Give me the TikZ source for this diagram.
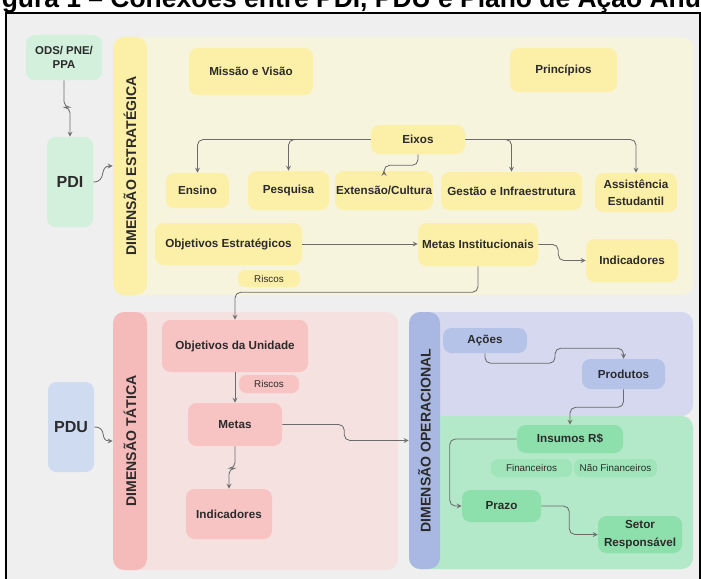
\documentclass[tikz,border=0pt]{standalone}
\usepackage{fontspec}
\setmainfont{Liberation Sans}
\usepackage{xcolor}
\usetikzlibrary{positioning}
\usetikzlibrary{arrows,calc}

\definecolor{fundo}{HTML}{EFEFEF}
\definecolor{amarpainel}{HTML}{F7F4DE}
\definecolor{amarcaixa}{HTML}{FCEFA8}
\definecolor{verdeclaro}{HTML}{D2F0DB}
\definecolor{rosapainel}{HTML}{F6E1E1}
\definecolor{rosacaixa}{HTML}{F7C3C3}
\definecolor{rosabarra}{HTML}{F5BBBB}
\definecolor{azulpdu}{HTML}{CFDBF1}
\definecolor{azulpainel}{HTML}{D5D8EE}
\definecolor{azulbarra}{HTML}{A9B8E3}
\definecolor{azulcaixa}{HTML}{B6C3E9}
\definecolor{verdepainel}{HTML}{B3E9C8}
\definecolor{verdecaixa}{HTML}{8DE0AC}
\definecolor{verdepeq}{HTML}{A0E5BA}
\definecolor{linha}{HTML}{6B6B6B}
\definecolor{texto}{HTML}{2B2B2B}

\begin{document}
\begin{tikzpicture} [
       x=0.025cm, y=-0.025cm,
       sz/.style 2 args={minimum width=#1*0.025cm, minimum height=#2*0.025cm},
       caixa/.style={rounded corners=6pt, text=texto, inner sep=0pt, align=center,
               font=\bfseries\fontsize{8.3}{12.5}\selectfont},
       amarelo/.style={caixa, fill=amarcaixa},
       rosa/.style={caixa, fill=rosacaixa},
       azul/.style={caixa, fill=azulcaixa},
       verde/.style={caixa, fill=verdecaixa},
       etiqueta/.style={rounded corners=5pt, text=texto, inner sep=0pt,
               font=\fontsize{7}{8}\selectfont},
       barra/.style={rounded corners=8pt, text=texto, inner sep=0pt,
               font=\bfseries\fontsize{10}{12}\selectfont},
       plano/.style={caixa, font=\bfseries\fontsize{11.4}{13}\selectfont},
       line/.style={draw=linha, line width=0.6pt, ->, >=stealth, rounded corners=4pt},
       ]
       \useasboundingbox (0,0) rectangle (701,578);
       \fill[white] (0,0) rectangle (701,578);
       \begin{scope}
       \clip (0,0) rectangle (701,13);
       \node (titulo) [anchor=base west, inner sep=0pt, font=\bfseries\fontsize{18.8}{22}\selectfont]
               at (-22,7.5) {Figura 1 – Conexões entre PDI, PDU e Plano de Ação Anual};
       \end{scope}
       \draw[line width=0.9pt, fill=fundo] (6,13) rectangle (700,590);

       \fill[amarpainel, rounded corners=8pt] (113,37) rectangle (693,295);
       \fill[rosapainel, rounded corners=8pt] (113,312) rectangle (398,570);
       \fill[azulpainel, rounded corners=8pt] (409,312) rectangle (693,416);
       \fill[verdepainel, rounded corners=8pt] (409,416) rectangle (693,569);

       \node (ods) [caixa, fill=verdeclaro, sz={76}{45}, font=\bfseries\fontsize{8.1}{9.5}\selectfont]
               at (64,57.5) {ODS/ PNE/\\PPA};
       \node (pdi) [plano, fill=verdeclaro, sz={46}{90}] at (70,182) {PDI};
       \node (pdu) [plano, fill=azulpdu, sz={46}{90}] at (71,427) {PDU};

       \node (estbar) [barra, fill=amarcaixa, sz={34}{258}] at (130,166) {\rotatebox{90}{DIMENSÃO ESTRATÉGICA}};
       \node (tatbar) [barra, fill=rosabarra, sz={34}{258}] at (130,441) {\rotatebox{90}{DIMENSÃO TÁTICA}};
       \node (opbar) [barra, fill=azulbarra, sz={31}{257}] at (424.5,440.5) {\rotatebox{90}{DIMENSÃO OPERACIONAL}};

       \node (missao) [amarelo, sz={124}{47}] at (251,71.5) {Missão e Visão};
       \node (princ) [amarelo, sz={107}{44}] at (563.5,70) {Princípios};
       \node (eixos) [amarelo, sz={94}{29}] at (418,139.5) {Eixos};
       \node (ensino) [amarelo, sz={63}{35}] at (197.5,190.5) {Ensino};
       \node (pesq) [amarelo, sz={81}{39}] at (288.5,190.5) {Pesquisa};
       \node (ext) [amarelo, sz={98}{39}] at (384,190.5) {Extensão/Cultura};
       \node (gest) [amarelo, sz={141}{38}] at (511.5,191) {Gestão e Infraestrutura};
       \node (assist) [amarelo, sz={82}{39}] at (636,192.5) {Assistência\\Estudantil};
       \node (objest) [amarelo, sz={147}{42}] at (228.5,244) {Objetivos Estratégicos};
       \node (riscosA) [etiqueta, fill=amarcaixa, sz={62}{17}] at (269,278.5) {Riscos};
       \node (metasinst) [amarelo, sz={120}{43}] at (478,244.5) {Metas Institucionais};
       \node (indA) [amarelo, sz={92}{43}] at (632,260.5) {Indicadores};

       \node (objun) [rosa, sz={146}{52}] at (235,346) {Objetivos da Unidade};
       \node (riscosB) [etiqueta, fill=rosacaixa, sz={60}{18}] at (269,384) {Riscos};
       \node (metas) [rosa, sz={94}{43}] at (235,424.5) {Metas};
       \node (indB) [rosa, sz={86}{50}] at (229,514) {Indicadores};

       \node (acoes) [azul, sz={84}{25}] at (485,340.5) {Ações};
       \node (prod) [azul, sz={83}{30}] at (623.5,374) {Produtos};
       \node (insumos) [verde, sz={106}{28}] at (570,439) {Insumos R\$};
       \node (fin) [etiqueta, fill=verdepeq, sz={81}{18}] at (531.5,468) {Financeiros};
       \node (naofin) [etiqueta, fill=verdepeq, sz={83}{18}] at (615.5,468) {Não Financeiros};
       \node (prazo) [verde, sz={79}{32}] at (501.5,506) {Prazo};
       \node (setor) [verde, sz={84}{37}] at (640,534.5) {Setor\\Responsável};

       \begin{scope}[every path/.style=line]
       \path (ods.south) -- ++(0,27) -| (pdi.north);
       \path (pdi.east) .. controls +(14,0) and +(-14,0) .. (estbar.west);
       \path (pdu.east) .. controls +(14,0) and +(-14,0) .. (tatbar.west);
       \path (eixos.west) -| (ensino.north);
       \path (eixos.west) -| (pesq.north);
       \path (eixos.east) -| (gest.north);
       \path (eixos.east) -| (assist.north);
       \path (eixos.south) -- ++(0,11) -| (ext.north);
       \path (objest.east) -- (objest.east -| metasinst.west);
       \path (metasinst.east) -- ++(20,0) |- (indA.west);
       \path (metasinst.south) -- ++(0,26) -| (objun.north);
       \path (objun.south) -- (metas.north);
       \path (metas.south) -- ++(0,22) -| (indB.north);
       \path (metas.east) -- ++(62,0) |- (opbar.west);
       \path (acoes.south) -- ++(0,10) -- ++(70,0) -- ++(0,-15) -| (prod.north);
       \path (prod.south) -- ++(0,18) -| (insumos.north);
       \path (insumos.west) -- ++(-67,0) |- (prazo.west);
       \path (prazo.east) -- ++(28,0) |- (setor.west);
       \end{scope}
\end{tikzpicture}
\end{document}
